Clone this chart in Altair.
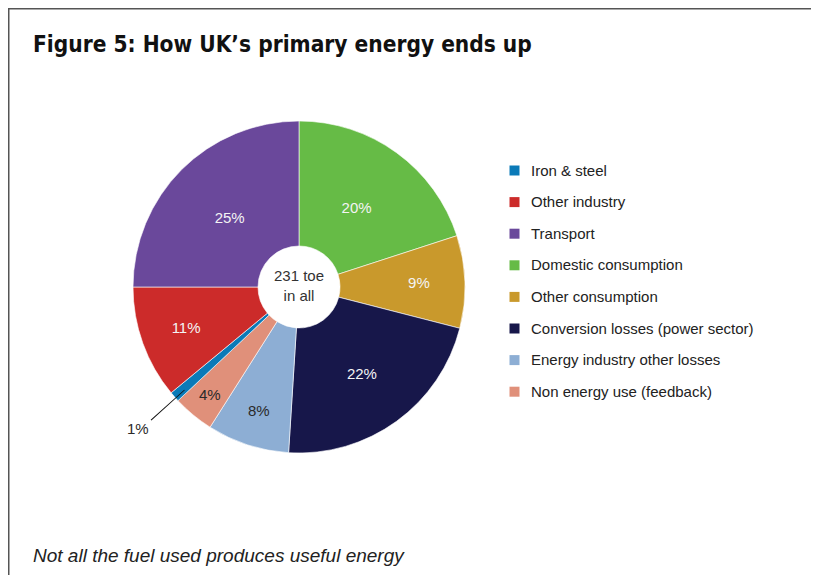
import math
import altair as alt
import pandas as pd

# ---- data ----
categories = [
    "Domestic consumption",
    "Other consumption",
    "Conversion losses (power sector)",
    "Energy industry other losses",
    "Non energy use (feedback)",
    "Iron & steel",
    "Other industry",
    "Transport",
]
shares = [20, 9, 22, 8, 4, 1, 11, 25]
labels = ["20%", "9%", "22%", "8%", "4%", "1%", "11%", "25%"]

legend_order = [
    "Iron & steel",
    "Other industry",
    "Transport",
    "Domestic consumption",
    "Other consumption",
    "Conversion losses (power sector)",
    "Energy industry other losses",
    "Non energy use (feedback)",
]
legend_colors = ["#0a7ab8", "#cc2b2a", "#6a489b", "#66bb46",
                 "#c9992c", "#17174a", "#8daed4", "#e0907a"]

centre_text = "231 toe\nin all"
title_text = "Figure 5: How UK\u2019s primary energy ends up"
caption_text = "Not all the fuel used produces useful energy"

# ---- layout ----
W, H = 803, 567
CX, CY = 291, 279
R_OUT, R_IN = 166, 41
FONT = "'Liberation Sans', Arial, sans-serif"
NARROW = "'Liberation Sans Narrow', 'Arial Narrow', 'DejaVu Sans Condensed', sans-serif"
total = sum(shares)

df = pd.DataFrame({
    "category": categories,
    "share": shares,
    "label": labels,
    "slice": list(range(len(categories))),
})

theta_scale = alt.Scale(domain=[0, total])

base = (
    alt.Chart(df)
    .transform_window(cum="sum(share)", sort=[alt.SortField("slice")], frame=[None, 0])
    .transform_calculate(start="datum.cum - datum.share", mid="datum.cum - datum.share / 2")
)

arcs = base.mark_arc(radius=R_OUT, radius2=R_IN, stroke="white", strokeWidth=0.6).encode(
    x=alt.value(CX),
    y=alt.value(CY),
    theta=alt.Theta("start:Q", scale=theta_scale),
    theta2="cum:Q",
    color=alt.Color(
        "category:N",
        scale=alt.Scale(domain=legend_order, range=legend_colors),
        legend=alt.Legend(
            title=None,
            orient="none",
            legendX=499,
            legendY=155,
            symbolType="square",
            symbolSize=100,
            symbolStrokeWidth=0,
            symbolOpacity=1,
            labelFont=FONT,
            labelFontSize=15,
            labelColor="#222222",
            labelOffset=9,
            labelLimit=400,
            rowPadding=15.6,
        ),
    ),
)

# label placement: (radius, colour, categories)
label_groups = [
    (98, "#f4f4f4", ["Domestic consumption", "Transport"]),
    (107, "#f4f4f4", ["Conversion losses (power sector)"]),
    (120, "#f4f4f4", ["Other consumption", "Other industry"]),
    (130, "#2a2a2a", ["Energy industry other losses"]),
    (140, "#2a2a2a", ["Non energy use (feedback)"]),
    (215, "#2a2a2a", ["Iron & steel"]),
]
text_layers = []
for r, col, cats in label_groups:
    text_layers.append(
        base.transform_filter(alt.FieldOneOfPredicate(field="category", oneOf=cats))
        .mark_text(radius=r, color=col, font=FONT, fontSize=15, align="center", baseline="middle")
        .encode(
            x=alt.value(CX),
            y=alt.value(CY),
            theta=alt.Theta("mid:Q", scale=theta_scale),
            text="label:N",
        )
    )

# leader line for the 1% slice, along the slice's middle angle
i_iron = categories.index("Iron & steel")
a_iron = 2 * math.pi * (sum(shares[:i_iron]) + shares[i_iron] / 2) / total - 0.01
leader = (
    alt.Chart(pd.DataFrame({"category": ["Iron & steel"]}))
    .mark_arc(theta=a_iron - 0.0027, theta2=a_iron + 0.0027, radius=199, radius2=154, color="#111111")
    .encode(x=alt.value(CX), y=alt.value(CY))
)

centre = (
    alt.Chart(pd.DataFrame({"t": [centre_text]}))
    .mark_text(font=FONT, fontSize=15, color="#333333", align="center",
               baseline="alphabetic", lineBreak="\n", lineHeight=19.5)
    .encode(x=alt.value(CX), y=alt.value(273), text="t:N")
)

title = (
    alt.Chart(pd.DataFrame({"t": [title_text]}))
    .mark_text(font=NARROW, fontSize=22.5, fontWeight="bold", color="#111111",
               align="left", baseline="alphabetic")
    .encode(x=alt.value(25), y=alt.value(44), text="t:N")
)

caption = (
    alt.Chart(pd.DataFrame({"t": [caption_text]}))
    .mark_text(font=FONT, fontSize=19, fontStyle="italic", color="#222222",
               align="left", baseline="alphabetic")
    .encode(x=alt.value(25), y=alt.value(554), text="t:N")
)

chart = (
    alt.layer(arcs, *text_layers, leader, centre, title, caption)
    .properties(width=W, height=H, padding=0, autosize=alt.AutoSizeParams(type="none"),
                background="white")
    # the view outline gives the frame: the dash pattern draws the top edge,
    # skips the right and bottom edges, then draws the left edge
    .configure_view(stroke="#555555", strokeWidth=3, strokeDash=[W, W + H])
)

chart.save("out.html", embed_options={"renderer": "svg", "actions": False})
